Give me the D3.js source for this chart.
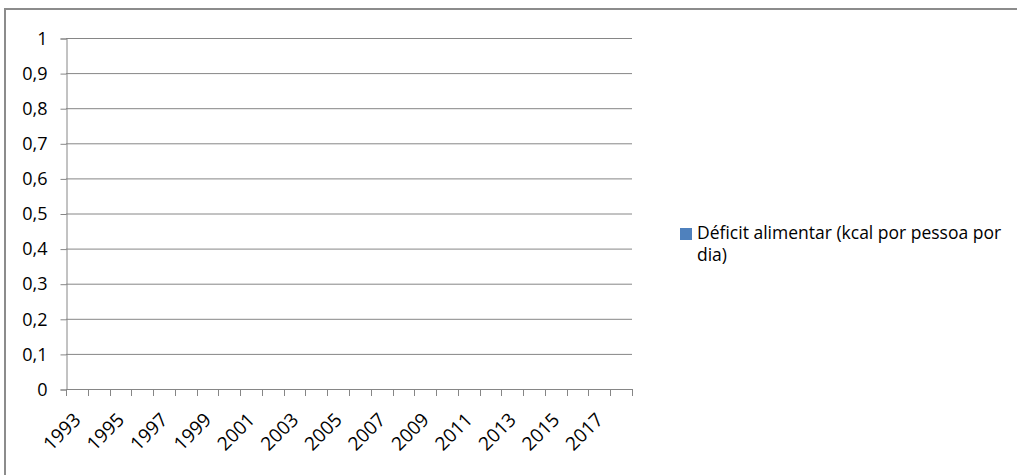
<!DOCTYPE html>
<html>
<head>
<meta charset="utf-8">
<script src="https://cdn.jsdelivr.net/npm/d3@7"></script>
<style>
  body { margin: 0; background: #fff; }
  text { font-family: "Open Sans", sans-serif; fill: #000; }
</style>
</head>
<body>
<div id="main"></div>
<script>
// data
const years = [1993, 1994, 1995, 1996, 1997, 1998, 1999, 2000, 2001, 2002, 2003, 2004, 2005,
    2006, 2007, 2008, 2009, 2010, 2011, 2012, 2013, 2014, 2015, 2016, 2017, 2018];
const deficit = [null, null, null, null, null, null, null, null, null, null, null, null, null,
    null, null, null, null, null, null, null, null, null, null, null, null, null];
const yTickValues = [0, 0.1, 0.2, 0.3, 0.4, 0.5, 0.6, 0.7, 0.8, 0.9, 1];
const yTickLabels = ["0", "0,1", "0,2", "0,3", "0,4", "0,5", "0,6", "0,7", "0,8", "0,9", "1"];
const xLabelYears = [1993, 1995, 1997, 1999, 2001, 2003, 2005, 2007, 2009, 2011, 2013, 2015, 2017];
const seriesName = ["Déficit alimentar (kcal por pessoa por", "dia)"];

// dimensions
const svg_width = 1017,
    svg_height = 475;
const plot = {left: 66, top: 38, right: 632, bottom: 389};
const axisColor = "#868686";

var svg = d3.select("#main").append("svg")
    .attr("width", svg_width)
    .attr("height", svg_height);

// outer chart frame (runs past the window on right and bottom)
svg.append("rect")
    .attr("x", 5).attr("y", 9)
    .attr("width", 1030).attr("height", 480)
    .attr("fill", "none")
    .attr("stroke", "#8c8c8c")
    .attr("stroke-width", 2);

// scales
var x = d3.scaleBand()
    .domain(years)
    .range([plot.left, plot.right])
    .padding(0);
var y = d3.scaleLinear()
    .domain([0, 1])
    .range([plot.bottom, plot.top]);

// gridlines
svg.append("g").selectAll("line")
    .data(yTickValues.filter(d => d > 0))
    .enter().append("line")
    .attr("x1", plot.left).attr("x2", plot.right)
    .attr("y1", d => y(d) + 0.5).attr("y2", d => y(d) + 0.5)
    .attr("stroke", axisColor);

// y-axis
var yAxis = svg.append("g")
    .attr("transform", `translate(${plot.left + 0.5},0.5)`)
    .call(d3.axisLeft(y)
        .tickValues(yTickValues)
        .tickFormat((d, i) => yTickLabels[i])
        .tickSize(6)
        .tickPadding(13));
yAxis.select(".domain").attr("stroke", axisColor);
yAxis.selectAll(".tick line").attr("stroke", axisColor);
yAxis.selectAll(".tick text")
    .style("font-size", "18px")
    .attr("fill", "#000");

// x-axis line + boundary ticks
var xg = svg.append("g");
xg.append("line")
    .attr("x1", plot.left).attr("x2", plot.right)
    .attr("y1", plot.bottom + 0.5).attr("y2", plot.bottom + 0.5)
    .attr("stroke", axisColor);
xg.selectAll(".xtick")
    .data(years.map(d => x(d)).concat([x.range()[1]]))
    .enter().append("line")
    .attr("class", "xtick")
    .attr("x1", d => Math.round(d) + 0.5).attr("x2", d => Math.round(d) + 0.5)
    .attr("y1", plot.bottom).attr("y2", plot.bottom + 7)
    .attr("stroke", axisColor);

// x labels, rotated
xg.selectAll(".xlabel")
    .data(xLabelYears)
    .enter().append("text")
    .attr("class", "xlabel")
    .attr("text-anchor", "end")
    .style("font-size", "19px")
    .attr("transform", d => `translate(${x(d) + x.bandwidth() / 2 + 5},${plot.bottom + 32}) rotate(-45)`)
    .text(d => d);

// bars (series is empty)
svg.append("g").selectAll("rect")
    .data(years.map((d, i) => ({year: d, value: deficit[i]})).filter(d => d.value != null))
    .enter().append("rect")
    .attr("x", d => x(d.year) + x.bandwidth() * 0.2)
    .attr("width", x.bandwidth() * 0.6)
    .attr("y", d => y(d.value))
    .attr("height", d => y(0) - y(d.value))
    .attr("fill", "#4f81bd");

// legend
var legend = svg.append("g").attr("transform", "translate(680,228)");
legend.append("rect")
    .attr("width", 12).attr("height", 12)
    .attr("fill", "#4f81bd");
legend.selectAll("text")
    .data(seriesName)
    .enter().append("text")
    .attr("x", 17)
    .attr("y", (d, i) => 11 + i * 22)
    .style("font-size", "17.5px")
    .text(d => d);
</script>
</body>
</html>
